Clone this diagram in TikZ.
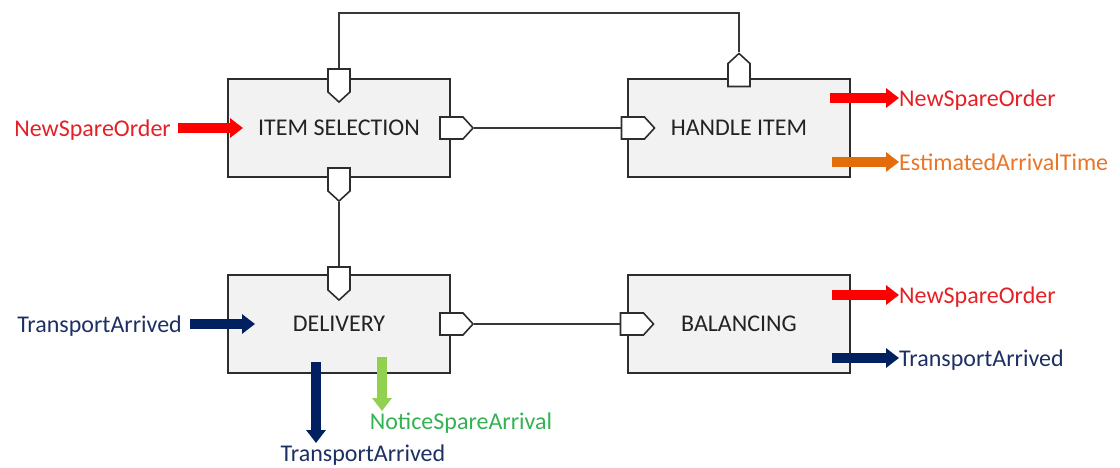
\documentclass[tikz,border=0pt]{standalone}
\usepackage{fontspec}
\setmainfont{Carlito}
\usetikzlibrary{shapes.symbols,arrows.meta}
\definecolor{boxfill}{RGB}{242,242,242}
\definecolor{boxline}{RGB}{45,45,45}
\definecolor{wire}{RGB}{55,55,55}
\definecolor{labeltext}{RGB}{35,35,35}
\definecolor{evred}{RGB}{255,0,0}
\definecolor{evredtext}{RGB}{228,32,38}
\definecolor{evnavy}{RGB}{0,32,96}
\definecolor{evnavytext}{RGB}{28,48,100}
\definecolor{evorange}{RGB}{228,108,10}
\definecolor{evorangetext}{RGB}{232,118,38}
\definecolor{evgreen}{RGB}{146,208,80}
\definecolor{evgreentext}{RGB}{52,178,82}
\tikzset{
  block/.style={draw=boxline, fill=boxfill, line width=2pt, minimum width=222pt,
    minimum height=98pt, inner sep=0pt, text=labeltext,
    font=\fontsize{24}{28}\selectfont},
  % a port: short pentagon whose tip is its east anchor, back edge its west anchor
  port/.style={signal, signal to=east, signal pointer angle=95, draw=boxline,
    fill=white, line width=1.6pt, inner sep=0pt, minimum width=33pt,
    minimum height=22pt},
  portdown/.style={port, rotate=-90},
  portup/.style={port, rotate=90},
  link/.style={draw=wire, line width=1.5pt},
  event/.style={line width=10pt, -{Triangle[length=13pt, width=19pt]}},
  evlabel/.style={inner sep=0pt, font=\fontsize{24}{28}\selectfont},
}
\begin{document}
\begin{tikzpicture}[x=1pt, y=-1pt]
\useasboundingbox (0,0) rectangle (1120,467);

% function blocks
\node[block] (is) at (339,128) {ITEM SELECTION};
\node[block] (hi) at (739,128) {HANDLE ITEM};
\node[block] (dl) at (339,324) {DELIVERY};
\node[block] (bl) at (739,324) {BALANCING};

% ports on the block borders
\node[portdown] (isT) at (339,80.5) {};
\node[portdown] (isB) at (339,179.5) {};
\node[port] (isR) at (451.5,128) {};
\node[port] (hiL) at (633,128) {};
\node[portup] (hiT) at (739,75) {};
\node[portdown] (dlT) at (339,278.5) {};
\node[port] (dlR) at (451.5,324) {};
\node[port] (blL) at (632,324) {};

% links between ports
\coordinate (loop) at (540,13);
\draw[link] (isT.west) -- (isT.west |- loop) -| (hiT.east);
\draw[link] (isR.east) -- (hiL.west);
\draw[link] (isB.east) -- (dlT.west);
\draw[link] (dlR.east) -- (blL.west);

% incoming events
\node[evlabel, text=evredtext, anchor=base east] (inNSO) at (171,136) {NewSpareOrder};
\coordinate (inNSOa) at (178,128);
\coordinate (inNSOb) at (243,128);
\draw[event, evred] (inNSOa) -- (inNSOb);

\node[evlabel, text=evnavytext, anchor=base east] (inTA) at (182,332) {TransportArrived};
\coordinate (inTAa) at (190,324);
\coordinate (inTAb) at (255,324);
\draw[event, evnavy] (inTAa) -- (inTAb);

% events raised by HANDLE ITEM
\coordinate (hiNa) at (830,98);
\node[evlabel, text=evredtext, anchor=base west] (hiN) at (899,106) {NewSpareOrder};
\draw[event, evred] (hiNa) -- (hiN.west |- hiNa);
\coordinate (hiEa) at (832,162);
\node[evlabel, text=evorangetext, anchor=base west] (hiE) at (899,170) {EstimatedArrivalTime};
\draw[event, evorange] (hiEa) -- (hiE.west |- hiEa);

% events raised by BALANCING
\coordinate (blNa) at (832,295);
\node[evlabel, text=evredtext, anchor=base west] (blN) at (899,303) {NewSpareOrder};
\draw[event, evred] (blNa) -- (blN.west |- blNa);
\coordinate (blTa) at (832,358);
\node[evlabel, text=evnavytext, anchor=base west] (blT) at (899,366) {TransportArrived};
\draw[event, evnavy] (blTa) -- (blT.west |- blTa);

% events raised by DELIVERY
\coordinate (dlTa) at (316,362);
\coordinate (dlTb) at (316,443);
\node[evlabel, text=evnavytext] (dlT) at (363,455) {TransportArrived};
\draw[event, evnavy] (dlTa) -- (dlTb);
\coordinate (dlNa) at (382,357);
\coordinate (dlNb) at (382,411);
\node[evlabel, text=evgreentext] (dlN) at (461,423) {NoticeSpareArrival};
\draw[event, evgreen] (dlNa) -- (dlNb);
\end{tikzpicture}
\end{document}
